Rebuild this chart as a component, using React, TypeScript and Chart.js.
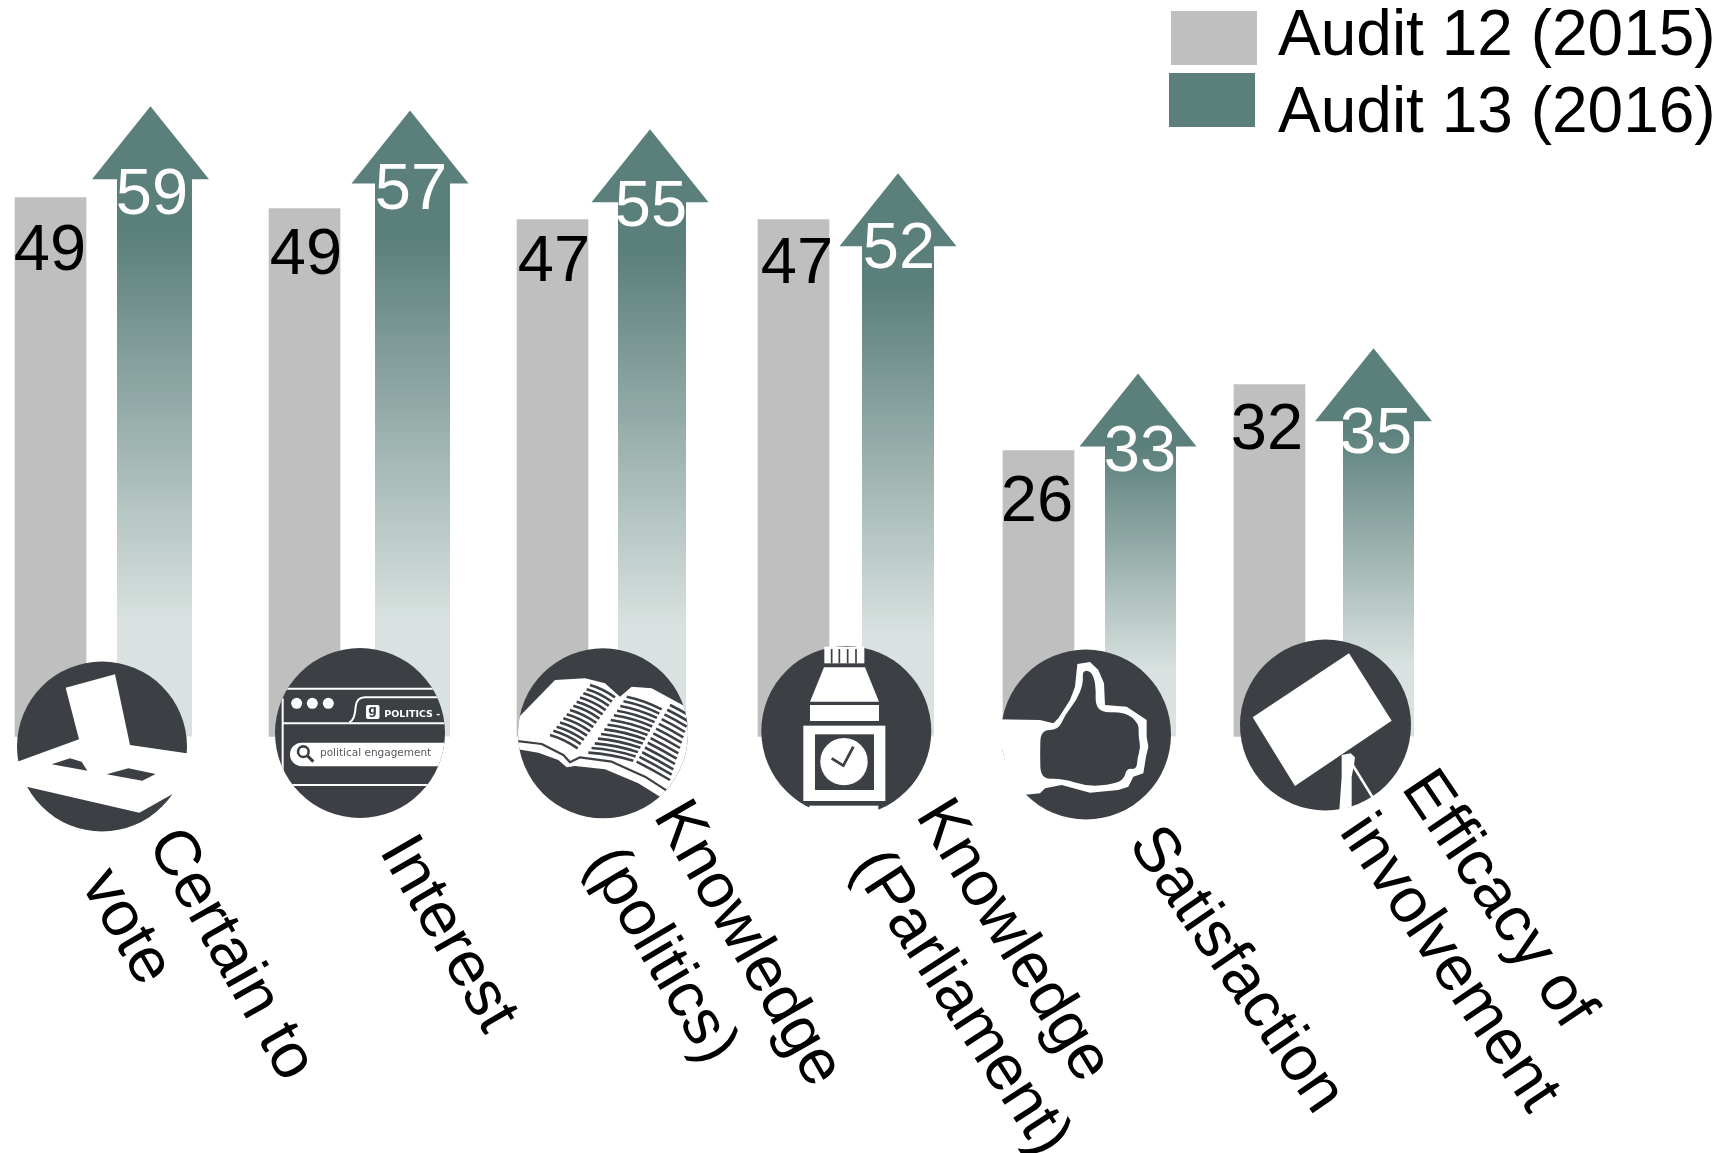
import React, { useEffect, useRef } from "react";
import { Chart, registerables } from "chart.js";

Chart.register(...registerables);

// ---- data ----
const categories = [
  ["Certain to", "vote"],
  ["Interest"],
  ["Knowledge", "(politics)"],
  ["Knowledge", "(Parliament)"],
  ["Satisfaction"],
  ["Efficacy of", "involvement"],
];
const seriesNames = ["Audit 12 (2015)", "Audit 13 (2016)"];
// heights of the drawn marks
const audit12 = [49, 48, 47, 47, 26, 32];
const audit13 = [57.3, 56.9, 55.2, 51.2, 33, 35.3];
// printed numbers
const audit12Labels = ["49", "49", "47", "47", "26", "32"];
const audit13Labels = ["59", "57", "55", "52", "33", "35"];

// ---- layout (page pixels) ----
const W = 1721;
const H = 1153;
const BASE_Y = 736.5;
const PX_PER_UNIT = 11;
const greyCenters = [50.5, 304.5, 552.5, 793.5, 1038.5, 1269.5];
const arrowCenters = [154.5, 412.5, 652, 898, 1140.5, 1378.5];
const arrowWidths = [75, 75, 68, 72, 71, 71];
const headCenters = [150.5, 410, 650, 898, 1138, 1373.5];
const HEAD_HALF = 58.5;
const HEAD_H = 73;
const grey12Pos = [[50, 252], [306, 256], [554, 263], [797, 265], [1037, 503], [1267, 431]];
const green13Pos = [[152, 196], [411, 191], [651, 208], [899, 250], [1140, 453], [1376, 435]];
const labelAnchors = [
  [[162, 834], [95.5, 875]],
  [[394, 842]],
  [[668, 807], [600, 853]],
  [[930, 806], [865, 857]],
  [[1142, 834]],
  [[1415, 778], [1353, 822]],
];
const labelAngles = [
  [60.5, 60],
  [60],
  [60, 59.5],
  [58.5, 57],
  [55.5],
  [56, 56],
];

const GREY = "#BFBFBF";
const GREEN = "#5B7F7B";
const PALE = "#D9E2E0";
const DARK = "#3C3F44";
const FONT = '"Liberation Sans", Arial, sans-serif';

type Pt = [number, number];

function poly(ctx: CanvasRenderingContext2D, ox: number, oy: number, pts: Pt[], fill: string) {
  ctx.beginPath();
  pts.forEach(([x, y], i) => {
    const px = ox + x / 3;
    const py = oy + y / 3;
    if (i === 0) ctx.moveTo(px, py);
    else ctx.lineTo(px, py);
  });
  ctx.closePath();
  ctx.fillStyle = fill;
  ctx.fill();
}

// closed outline with rounded joints
function smooth(ctx: CanvasRenderingContext2D, ox: number, oy: number, pts: Pt[], fill: string) {
  const n = pts.length;
  const mid = (a: Pt, b: Pt): Pt => [(a[0] + b[0]) / 2, (a[1] + b[1]) / 2];
  const m0 = mid(pts[n - 1], pts[0]);
  ctx.beginPath();
  ctx.moveTo(ox + m0[0] / 3, oy + m0[1] / 3);
  pts.forEach((p, i) => {
    const m = mid(p, pts[(i + 1) % n]);
    ctx.quadraticCurveTo(ox + p[0] / 3, oy + p[1] / 3, ox + m[0] / 3, oy + m[1] / 3);
  });
  ctx.closePath();
  ctx.fillStyle = fill;
  ctx.fill();
}

function line(ctx: CanvasRenderingContext2D, ox: number, oy: number, pts: Pt[], stroke: string, w: number) {
  ctx.beginPath();
  pts.forEach(([x, y], i) => {
    const px = ox + x / 3;
    const py = oy + y / 3;
    if (i === 0) ctx.moveTo(px, py);
    else ctx.lineTo(px, py);
  });
  ctx.strokeStyle = stroke;
  ctx.lineWidth = w;
  ctx.lineJoin = "round";
  ctx.stroke();
}

function disc(ctx: CanvasRenderingContext2D, cx: number, cy: number, r: number, fill = DARK) {
  ctx.beginPath();
  ctx.arc(cx, cy, r, 0, Math.PI * 2);
  ctx.fillStyle = fill;
  ctx.fill();
}

function drawBallot(ctx: CanvasRenderingContext2D) {
  const ox = 0, oy = 650;
  disc(ctx, 102, 746.5, 85);
  poly(ctx, ox, oy, [[197, 113], [345, 73], [390, 285], [560, 310], [600, 316], [600, 386], [522, 430], [418, 488], [80, 410], [0, 392], [0, 355], [52, 335], [237, 268]], "#fff");
  poly(ctx, ox, oy, [[155, 343], [210, 325], [245, 335], [262, 362]], DARK);
  poly(ctx, ox, oy, [[320, 373], [385, 355], [467, 372], [427, 392]], DARK);
}

function drawBrowser(ctx: CanvasRenderingContext2D) {
  const ox = 260, oy = 640;
  const X = (v: number) => ox + v / 3;
  const Y = (v: number) => oy + v / 3;
  disc(ctx, 360, 733, 85);
  ctx.save();
  ctx.beginPath();
  ctx.arc(360, 733, 85, 0, Math.PI * 2);
  ctx.clip();
  line(ctx, ox, oy, [[70, 146], [560, 146]], "#fff", 2);
  line(ctx, ox, oy, [[68, 250], [560, 250]], "#fff", 2);
  line(ctx, ox, oy, [[68, 175], [68, 430]], "#fff", 2);
  line(ctx, ox, oy, [[70, 435], [560, 435]], "#fff", 2);
  ctx.beginPath();
  ctx.moveTo(X(268), Y(247));
  ctx.quadraticCurveTo(X(285), Y(240), X(287), Y(200));
  ctx.quadraticCurveTo(X(290), Y(172), X(315), Y(172));
  ctx.lineTo(X(560), Y(172));
  ctx.strokeStyle = "#fff";
  ctx.lineWidth = 2;
  ctx.stroke();
  [110, 157, 205].forEach((d) => disc(ctx, X(d), Y(190), 5.5, "#fff"));
  ctx.beginPath();
  ctx.roundRect(X(318), Y(195), 13.5, 14, 2);
  ctx.fillStyle = "#fff";
  ctx.fill();
  ctx.fillStyle = DARK;
  ctx.textAlign = "center";
  ctx.textBaseline = "middle";
  ctx.font = 'bold 12px "DejaVu Sans"';
  ctx.fillText("g", X(338), Y(212));
  ctx.fillStyle = "#fff";
  ctx.textAlign = "left";
  ctx.textBaseline = "alphabetic";
  ctx.font = 'bold 9.5px "DejaVu Sans"';
  ctx.save();
  ctx.beginPath();
  ctx.rect(X(0), Y(0), 185, 190);
  ctx.clip();
  ctx.fillText("POLITICS - Google", X(373), Y(232));
  ctx.restore();
  ctx.beginPath();
  ctx.roundRect(X(90), Y(308), 170, 23.5, [12, 0, 0, 12]);
  ctx.fillStyle = "#fff";
  ctx.fill();
  ctx.beginPath();
  ctx.arc(X(130), Y(335), 5.3, 0, Math.PI * 2);
  ctx.strokeStyle = DARK;
  ctx.lineWidth = 2.6;
  ctx.stroke();
  line(ctx, ox, oy, [[142, 347], [160, 365]], DARK, 3);
  ctx.fillStyle = "#555a5f";
  ctx.font = '10.5px "DejaVu Sans"';
  ctx.fillText("political engagement", X(180), Y(347));
  ctx.restore();
}

function drawBook(ctx: CanvasRenderingContext2D) {
  const ox = 505, oy = 640;
  const X = (v: number) => ox + v / 3;
  const Y = (v: number) => oy + v / 3;
  disc(ctx, 603, 733.3, 85);
  ctx.save();
  ctx.beginPath();
  ctx.arc(603, 733.3, 85, 0, Math.PI * 2);
  ctx.clip();
  poly(ctx, ox, oy, [[20, 250], [38, 235], [150, 120], [240, 115], [300, 130], [345, 170], [380, 140], [440, 145], [570, 215], [570, 460], [480, 470], [465, 470], [400, 430], [300, 388], [210, 378], [185, 382], [160, 360], [100, 338], [20, 325]], "#fff");
  line(ctx, ox, oy, [[30, 302], [110, 312], [175, 345], [195, 367], [225, 352], [320, 365], [420, 410], [490, 455]], DARK, 2.2);
  const block = (a1: Pt, a2: Pt, b1: Pt, b2: Pt, n: number, bow: number) => {
    for (let i = 0; i < n; i++) {
      const t = i / (n - 1);
      const sx = a1[0] + (b1[0] - a1[0]) * t;
      const sy = a1[1] + (b1[1] - a1[1]) * t;
      const ex = a2[0] + (b2[0] - a2[0]) * t;
      const ey = a2[1] + (b2[1] - a2[1]) * t;
      ctx.beginPath();
      ctx.moveTo(X(sx), Y(sy));
      ctx.quadraticCurveTo(X((sx + ex) / 2), Y((sy + ey) / 2 - bow), X(ex), Y(ey));
      ctx.strokeStyle = DARK;
      ctx.lineWidth = 2.6;
      ctx.stroke();
    }
  };
  block([255, 135], [330, 172], [135, 285], [218, 325], 13, 8);
  block([365, 170], [470, 208], [250, 338], [385, 362], 13, 8);
  block([495, 195], [555, 228], [395, 365], [495, 420], 13, 2);
  ctx.restore();
}

function drawClock(ctx: CanvasRenderingContext2D) {
  const ox = 750, oy = 635;
  const X = (v: number) => ox + v / 3;
  const Y = (v: number) => oy + v / 3;
  disc(ctx, 846.3, 731, 85);
  const rect = (x1: number, y1: number, x2: number, y2: number, fill: string) => {
    ctx.fillStyle = fill;
    ctx.fillRect(X(x1), Y(y1), (x2 - x1) / 3, (y2 - y1) / 3);
  };
  rect(223, 35, 343, 85, "#fff");
  [245, 268, 293, 318].forEach((x) => rect(x - 2.5, 42, x + 2.5, 85, DARK));
  poly(ctx, ox, oy, [[222, 97], [345, 97], [387, 200], [180, 200]], "#fff");
  rect(180, 210, 387, 258, "#fff");
  rect(160, 272, 406, 498, "#fff");
  rect(195, 298, 372, 465, DARK);
  disc(ctx, X(282), Y(380), 23.7, "#fff");
  line(ctx, ox, oy, [[245, 370], [280, 392], [310, 335]], DARK, 2.8);
  rect(178, 512, 385, 560, "#fff");
}

function drawThumb(ctx: CanvasRenderingContext2D) {
  const ox = 990, oy = 640;
  disc(ctx, 1086, 734.5, 85);
  poly(ctx, ox, oy, [[15, 238], [150, 240], [190, 250], [205, 235], [240, 180], [255, 140], [262, 72], [300, 66], [325, 90], [342, 130], [345, 195], [410, 200], [470, 240], [470, 290], [475, 320], [468, 350], [460, 400], [430, 410], [415, 440], [385, 450], [300, 458], [215, 435], [165, 445], [150, 460], [70, 468]], "#fff");
  smooth(ctx, ox, oy, [[152, 270], [205, 270], [225, 225], [260, 180], [280, 130], [277, 92], [302, 92], [318, 130], [316, 218], [405, 215], [447, 250], [445, 290], [452, 320], [442, 355], [440, 388], [410, 385], [402, 418], [370, 432], [295, 440], [215, 415], [152, 418], [150, 340]], DARK);
}

function drawPlacard(ctx: CanvasRenderingContext2D) {
  const ox = 1230, oy = 630;
  disc(ctx, 1325.5, 725, 85.5);
  poly(ctx, ox, oy, [[357, 70], [485, 272], [195, 468], [68, 262]], "#fff");
  poly(ctx, ox, oy, [[335, 375], [362, 370], [375, 382], [372, 405], [365, 440], [365, 530], [328, 540], [335, 440]], "#fff");
  line(ctx, ox, oy, [[368, 405], [428, 502]], "#fff", 2.6);
}

const arrowPlugin = {
  id: "arrowBars",
  beforeDatasetDraw(chart: any, args: any) {
    if (args.index !== 1) return true;
    const ctx = chart.ctx as CanvasRenderingContext2D;
    args.meta.data.forEach((el: any, i: number) => {
      const tip = el.y;
      const base = el.base;
      const g = ctx.createLinearGradient(0, tip, 0, base);
      g.addColorStop(0, GREEN);
      g.addColorStop(0.2, GREEN);
      g.addColorStop(0.82, PALE);
      g.addColorStop(1, PALE);
      const half = arrowWidths[i] / 2;
      const hc = headCenters[i];
      ctx.beginPath();
      ctx.moveTo(hc, tip);
      ctx.lineTo(hc + HEAD_HALF, tip + HEAD_H);
      ctx.lineTo(el.x + half, tip + HEAD_H);
      ctx.lineTo(el.x + half, base);
      ctx.lineTo(el.x - half, base);
      ctx.lineTo(el.x - half, tip + HEAD_H);
      ctx.lineTo(hc - HEAD_HALF, tip + HEAD_H);
      ctx.closePath();
      ctx.fillStyle = g;
      ctx.fill();
    });
    return false;
  },
};

const overlayPlugin = {
  id: "overlay",
  afterDatasetsDraw(chart: any) {
    const ctx = chart.ctx as CanvasRenderingContext2D;
    ctx.save();
    drawBallot(ctx);
    drawBrowser(ctx);
    drawBook(ctx);
    drawClock(ctx);
    drawThumb(ctx);
    drawPlacard(ctx);

    // printed values
    ctx.textAlign = "center";
    ctx.textBaseline = "middle";
    ctx.font = `65px ${FONT}`;
    ctx.fillStyle = "#000";
    audit12Labels.forEach((t, i) => ctx.fillText(t, grey12Pos[i][0], grey12Pos[i][1]));
    ctx.fillStyle = "#fff";
    audit13Labels.forEach((t, i) => ctx.fillText(t, green13Pos[i][0], green13Pos[i][1]));

    // category labels, rotated
    ctx.fillStyle = "#000";
    ctx.textAlign = "left";
    ctx.font = `64px ${FONT}`;
    categories.forEach((lines, i) => {
      lines.forEach((t, j) => {
        const [x, y] = labelAnchors[i][j];
        ctx.save();
        ctx.translate(x, y);
        ctx.rotate((labelAngles[i][j] * Math.PI) / 180);
        ctx.fillText(t, 0, 0);
        ctx.restore();
      });
    });

    // legend
    ctx.fillStyle = GREY;
    ctx.fillRect(1171, 11, 86, 54);
    ctx.fillStyle = GREEN;
    ctx.fillRect(1169, 73, 86, 54);
    ctx.fillStyle = "#000";
    ctx.textBaseline = "alphabetic";
    ctx.font = `64px ${FONT}`;
    ctx.fillText(seriesNames[0], 1278, 55);
    ctx.fillText(seriesNames[1], 1278, 132);
    ctx.restore();
  },
};

export default function App() {
  const ref = useRef<HTMLCanvasElement | null>(null);
  useEffect(() => {
    if (!ref.current) return;
    const chart = new Chart(ref.current, {
      type: "bar",
      data: {
        datasets: [
          {
            label: seriesNames[0],
            data: audit12.map((v, i) => ({ x: greyCenters[i], y: v })),
            backgroundColor: GREY,
            barThickness: 71,
            grouped: false,
          },
          {
            label: seriesNames[1],
            data: audit13.map((v, i) => ({ x: arrowCenters[i], y: v })),
            backgroundColor: GREEN,
            barThickness: 72,
            grouped: false,
          },
        ],
      } as any,
      options: {
        animation: false,
        responsive: false,
        devicePixelRatio: 1,
        layout: { padding: 0 },
        plugins: { legend: { display: false }, tooltip: { enabled: false } },
        scales: {
          x: { type: "linear", display: false, offset: false, min: 0, max: W },
          y: { type: "linear", display: false, min: -(H - BASE_Y) / PX_PER_UNIT, max: BASE_Y / PX_PER_UNIT },
        },
      } as any,
      plugins: [arrowPlugin, overlayPlugin],
    });
    return () => chart.destroy();
  }, []);
  return (
    <div style={{ position: "fixed", left: 0, top: 0, width: W, height: H, background: "#fff" }}>
      <canvas ref={ref} width={W} height={H} style={{ display: "block" }} />
    </div>
  );
}
